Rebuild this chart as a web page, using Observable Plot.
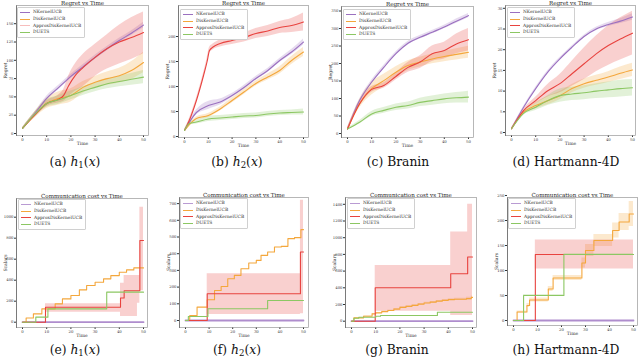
<!DOCTYPE html>
<html><head><meta charset="utf-8">
<script src="https://cdn.jsdelivr.net/npm/d3@7"></script>
<script src="https://cdn.jsdelivr.net/npm/@observablehq/plot@0.6"></script>
<style>
body{margin:0;background:#fff;}
#root{position:relative;width:640px;height:359px;overflow:hidden;font-family:"DejaVu Serif",serif;background:#fff;}
.cell{position:absolute;}
.cap{position:absolute;font-family:"DejaVu Serif",serif;font-size:12.3px;line-height:13px;text-align:center;width:160px;white-space:nowrap;color:#111;}
.cap sub{font-size:0.7em;vertical-align:-0.25em;line-height:0;}
.leg{position:absolute;background:#fff;border:0.6px solid #d0d0d0;border-radius:1px;font-family:"DejaVu Serif",serif;font-size:4.4px;line-height:6.8px;padding:1px 3px 1px 2px;color:#333;}
.leg div{white-space:nowrap;display:flex;align-items:center;}
.leg span.sw{display:inline-block;width:10px;height:0;border-top:1.6px solid;margin-right:3px;}
</style></head><body><div id="root"></div><script>
// ---------- data ----------
const methods = ["NKernelUCB","DisKernelUCB","ApproxDisKernelUCB","DUETS"];
const colors = ["#9b70c0","#f4a73c","#e8433f","#8cc763"];
const timeTicks = [0,10,20,30,40,50];
const tTop = [0,5,10,15,20,25,30,35,40,45,50];

// (a) h1 regret
const aTicks = [0,25,50,75,100,125,150];
const a_nk = [7,27,48,63,78,91,104,116,127,137,148];
const a_nk_hw = [1,2,3,3,3,3,3,3,3,3,4];
const a_dk = [7,25,41,48,52,63,70,75,79,86,97];
const a_dk_hw = [1,4,7,9,9,8,8,9,10,12,14];
const a_ap_t = [0,5,10,15,17,19,22,25,30,35,40,45,50];
const a_ap = [7,25,41,47,52,65,80,90,104,116,125,131,138];
const a_ap_lo = [6,22,37,42,44,50,58,64,78,88,95,101,109];
const a_ap_hi = [8,28,45,53,60,78,96,108,122,135,148,158,166];
const a_du = [7,26,41,46,52,58,63,68,71,74,77];
const a_du_hw = [1,3,5,6,6,6,6,7,7,8,9];

// (b) h2 regret
const bTicks = [0,50,100,150,200];
const b_nk = [12,48,62,69,82,98,116,132,152,169,189];
const b_nk_hw = [1,5,8,6,4,4,4,4,4,5,6];
const b_dk = [12,36,42,55,72,89,106,119,132,152,169];
const b_dk_hw = [1,3,4,4,5,5,5,6,7,8,9];
const b_ap_t = [0,2,5,8,9.5,10.5,12,15,20,25,30,35,40,45,50];
const b_ap = [12,32,72,122,150,172,179,186,192,198,206,211,218,222,229];
const b_ap_hw = [1,3,4,5,6,6,6,7,8,9,10,11,12,14,18];
const b_du_t = [0,2,5,10,15,20,25,30,35,40,45,50];
const b_du = [12,26,29,35,37,39,41,42,45,47,48,49];
const b_du_hw = [1,3,4,5,5,5,5,5,5,5,5,6];

// (c) Branin regret
const cTicks = [0,50,100,150,200,250,300,350];
const c_nk = [13,94,147,189,228,258,275,289,304,321,337];
const c_nk_hw = [3,4,5,5,5,5,5,5,5,6,6];
const c_dk = [13,85,128,151,175,194,204,213,220,226,232];
const c_dk_hw = [3,12,18,18,16,14,14,14,15,16,17];
const c_ap = [13,85,126,137,163,189,204,228,237,256,268];
const c_ap_hw = [3,8,8,8,10,14,18,22,24,28,32];
const c_du = [13,32,56,66,75,80,89,94,99,102,104];
const c_du_hw = [2,5,7,8,9,10,12,13,14,15,17];

// (d) Hartmann-4D regret
const dTicks = [0,5,10,15,20,25,30];
const d_nk = [0.9,6.1,10.6,14.6,17.8,20.6,23.2,25.0,26.1,26.9,27.9];
const d_nk_hw = [0.1,0.2,0.3,0.3,0.3,0.3,0.3,0.4,0.5,0.6,0.8];
const d_dk = [0.9,4.9,6.5,7.7,8.9,10.6,11.8,12.6,13.4,14.3,15.1];
const d_dk_hw = [0.1,0.4,0.8,1.0,1.0,1.0,1.1,1.2,1.3,1.5,1.6];
const d_ap = [0.9,5.3,7.7,10.1,11.8,14.2,16.6,19.0,21.0,22.6,24.0];
const d_ap_hw = [0.1,0.4,0.8,1.5,2.2,3.0,3.8,4.3,4.8,5.1,5.3];
const d_du = [0.9,4.6,6.1,7.7,8.9,9.3,9.6,10.0,10.3,10.6,10.8];
const d_du_hw = [0.1,0.4,0.8,1.2,1.6,1.6,1.7,1.8,1.9,2.0,2.0];

// (e) h1 communication
const eTicks = [0,200,400,600,800,1000];
const zero_t = [0,50], zero_v = [0,0];
const e_dk_t = [0,1.5,4.5,8,13.5,16.5,20,23.5,26.5,30,33.5,36.5,40,43,46,50];
const e_dk = [0,40,79,127,175,222,254,308,349,381,413,444,476,498,517,517];
const e_ap_t = [0,9.5,39.5,40.5,42,47.5,48.5,50];
const e_ap = [0,143,143,230,300,300,778,778];
const e_ap_lo = [0,95,95,54,54,180,300,300];
const e_ap_hi = [0,175,175,371,444,444,1095,1095];
const e_du_t = [0,5.5,10.5,34.8,50];
const e_du = [0,48,127,286,286];

// (f) h2 communication
const fTicks = [0,100,200,300,400,500,600,700];
const f_dk_t = [0,1.8,4.9,9.2,12.3,15.1,17.9,20.7,23.5,26.8,30,32,34.8,37.7,40.6,43.4,46.2,48.9,50];
const f_dk = [0,30,80,124,180,204,250,270,310,344,360,390,410,440,444,490,496,544,544];
const f_ap_t = [0,9.2,46.9,48.7,50];
const f_ap = [0,160,160,410,410];
const f_ap_lo = [0,36,36,40,40];
const f_ap_hi = [0,280,280,720,720];
const f_du_t = [0,1.2,9.5,34.8,50];
const f_du = [0,24,70,120,120];

// (g) Branin communication
const gTicks = [0,200,400,600,800,1000,1200,1400];
const g_dk_t = [0,1,5,8.5,10,12.5,15,17.5,20,22.5,25,27.5,30,32.5,35,37.5,40,42.5,45,47.5,49.5,50];
const g_dk = [0,40,60,88,100,115,128,145,165,178,190,205,218,228,240,250,258,262,262,270,285,285];
const g_dk_hw = [0,3,4,5,5,6,6,6,7,7,8,8,8,9,9,10,10,12,14,16,18,18];
const g_ap_t = [0,9.8,41,48,50];
const g_ap = [0,400,568,768,768];
const g_ap_lo = [0,120,68,68,68];
const g_ap_hi = [0,668,1068,1400,1400];
const g_du_t = [0,1,3,10,12,35.5,50];
const g_du = [0,36,48,60,68,108,108];

// (h) Hartmann-4D communication
const hTicks = [0,50,100,150,200,250];
const h_dk_t = [0,1.5,5.6,6.7,14.5,16.5,28.5,30,33.5,41.3,44,48.2,50];
const h_dk = [0,17,30,41,63,85,115,140,160,180,197,213,213];
const h_dk_hw = [0,2,4,4,5,5,10,12,12,15,17,25,27];
const h_ap_t = [0,9.1,50];
const h_ap = [0,132,132];
const h_ap_lo = [0,103,103];
const h_ap_hi = [0,161,161];
const h_du_t = [0,4.2,21,50];
const h_du = [0,50,132,132];
const h_du_hw = [0,2,2,2];

// ---------- build ----------
const S = (t, v, o = {}) => ({t, v, ...o});
const panels = [
 {cap:'(a) <i>h</i><sub>1</sub>(<i>x</i>)', title:"Regret vs Time", ylab:"Regret", yTicks:aTicks, yStep:25, curve:"monotone-x",
  series:[S(tTop,a_nk,{hw:a_nk_hw}),S(tTop,a_dk,{hw:a_dk_hw}),S(a_ap_t,a_ap,{lo:a_ap_lo,hi:a_ap_hi}),S(tTop,a_du,{hw:a_du_hw})]},
 {cap:'(b) <i>h</i><sub>2</sub>(<i>x</i>)', title:"Regret vs Time", ylab:"Regret", yTicks:bTicks, yStep:50, curve:"monotone-x",
  series:[S(tTop,b_nk,{hw:b_nk_hw}),S(tTop,b_dk,{hw:b_dk_hw}),S(b_ap_t,b_ap,{hw:b_ap_hw}),S(b_du_t,b_du,{hw:b_du_hw})]},
 {cap:'(c) Branin', title:"Regret vs Time", ylab:"Regret", yTicks:cTicks, yStep:50, curve:"monotone-x",
  series:[S(tTop,c_nk,{hw:c_nk_hw}),S(tTop,c_dk,{hw:c_dk_hw}),S(tTop,c_ap,{hw:c_ap_hw}),S(tTop,c_du,{hw:c_du_hw})]},
 {cap:'(d) Hartmann-4D', title:"Regret vs Time", ylab:"Regret", yTicks:dTicks, yStep:5, curve:"monotone-x",
  series:[S(tTop,d_nk,{hw:d_nk_hw}),S(tTop,d_dk,{hw:d_dk_hw}),S(tTop,d_ap,{hw:d_ap_hw}),S(tTop,d_du,{hw:d_du_hw})]},
 {cap:'(e) <i>h</i><sub>1</sub>(<i>x</i>)', title:"Communication cost vs Time", ylab:"Scalars", yTicks:eTicks, yStep:200, curve:"step-after",
  series:[S(zero_t,zero_v),S(e_dk_t,e_dk),S(e_ap_t,e_ap,{lo:e_ap_lo,hi:e_ap_hi}),S(e_du_t,e_du)]},
 {cap:'(f) <i>h</i><sub>2</sub>(<i>x</i>)', title:"Communication cost vs Time", ylab:"Scalars", yTicks:fTicks, yStep:100, curve:"step-after",
  series:[S(zero_t,zero_v),S(f_dk_t,f_dk),S(f_ap_t,f_ap,{lo:f_ap_lo,hi:f_ap_hi}),S(f_du_t,f_du)]},
 {cap:'(g) Branin', title:"Communication cost vs Time", ylab:"Scalars", yTicks:gTicks, yStep:200, curve:"step-after",
  series:[S(zero_t,zero_v),S(g_dk_t,g_dk,{hw:g_dk_hw}),S(g_ap_t,g_ap,{lo:g_ap_lo,hi:g_ap_hi}),S(g_du_t,g_du)]},
 {cap:'(h) Hartmann-4D', title:"Communication cost vs Time", ylab:"Scalars", yTicks:hTicks, yStep:50, curve:"step-after",
  series:[S(zero_t,zero_v),S(h_dk_t,h_dk,{hw:h_dk_hw}),S(h_ap_t,h_ap,{lo:h_ap_lo,hi:h_ap_hi}),S(h_du_t,h_du,{hw:h_du_hw})]}
];
// layout (pixels)
const layout = [
 {col:0,row:0,L:16,R:148,T:5,B:135,x0:22,x50:143,y0:133,sp:18.3,capX:75,capY:156,leg:[17,7]},
 {col:1,row:0,L:178,R:308,T:5,B:137,x0:184,x50:303,y0:136,sp:25,capX:237,capY:156,leg:[180,9]},
 {col:2,row:0,L:341,R:473,T:6,B:137,x0:347,x50:468,y0:133,sp:17.5,capX:398,capY:156,leg:[343,9]},
 {col:3,row:0,L:505,R:635,T:5,B:135,x0:511,x50:632,y0:132,sp:20.7,capX:566,capY:156,leg:[507,7]},
 {col:0,row:1,L:16,R:147,T:198,B:327,x0:22,x50:143,y0:321.7,sp:21,capX:75,capY:344,leg:[18,199]},
 {col:1,row:1,L:179,R:308,T:197,B:327,x0:185,x50:303,y0:320,sp:16.7,capX:237,capY:344,leg:[180,198]},
 {col:2,row:1,L:345,R:476,T:197,B:327,x0:351,x50:472,y0:320.7,sp:16.7,capX:397,capY:344,leg:[347,198]},
 {col:3,row:1,L:507,R:637,T:197,B:325,x0:513,x50:633,y0:320,sp:25,capX:566,capY:344,leg:[508,198]}
];
function rows(s){
  return s.t.map((t,i)=>{
    let lo=null, hi=null;
    if (s.lo){lo=s.lo[i];hi=s.hi[i];}
    else if (s.hw){lo=s.v[i]-s.hw[i];hi=s.v[i]+s.hw[i];}
    return {t, v:s.v[i], lo, hi};
  });
}
const FONT = "DejaVu Serif, serif";
const root = document.getElementById("root");
panels.forEach((p,i)=>{
  const g = layout[i];
  const cellLeft = g.col*160, cellTop = g.row ? 185 : 0, H = g.row ? 160 : 152;
  const kx = (g.x50-g.x0)/50, ky = g.sp/p.yStep;
  const xd = [-(g.x0-g.L)/kx, 50+(g.R-g.x50)/kx];
  const yd = [(g.y0-g.B)/ky, (g.y0-g.T)/ky];
  const data = p.series.map(rows);
  const marks = [];
  data.forEach((d,j)=>{ if (d[0].lo!=null) marks.push(Plot.areaY(d,{x:"t",y1:"lo",y2:"hi",fill:colors[j],fillOpacity:0.25,curve:p.curve})); });
  data.forEach((d,j)=> marks.push(Plot.line(d,{x:"t",y:"v",stroke:colors[j],strokeWidth:(j===0&&g.row)?1.8:1.1,strokeOpacity:(j===0&&g.row)?0.8:1,curve:p.curve})));
  marks.push(Plot.frame({stroke:"#999",strokeWidth:0.7}));
  marks.push(Plot.text([p.title],{frameAnchor:"top",textAnchor:"middle",lineAnchor:"bottom",dy:-1,fontSize:5.6,fill:"#222"}));
  marks.push(Plot.text(["Time"],{frameAnchor:"bottom",textAnchor:"middle",lineAnchor:"middle",dy:8.5,fontSize:4.6,fill:"#333"}));
  marks.push(Plot.text([p.ylab],{frameAnchor:"left",textAnchor:"middle",lineAnchor:"middle",dx:-10.5,rotate:-90,fontSize:4.6,fill:"#333"}));
  const svg = Plot.plot({
    width:160, height:H,
    marginLeft:g.L-cellLeft, marginRight:cellLeft+160-g.R, marginTop:g.T-cellTop, marginBottom:cellTop+H-g.B,
    x:{domain:xd, ticks:timeTicks, tickSize:2, tickPadding:0.5, label:null, tickFormat:d=>String(d)},
    y:{domain:yd, ticks:p.yTicks, tickSize:2, tickPadding:1, label:null, line:true, tickFormat:d=>String(d)},
    style:{fontSize:"3.8px", fontFamily:FONT, background:"transparent", overflow:"visible", color:"#333"},
    marks
  });
  const cell = document.createElement("div");
  cell.className="cell"; cell.style.left=cellLeft+"px"; cell.style.top=cellTop+"px"; cell.style.width="160px";
  cell.appendChild(svg); root.appendChild(cell);
});
panels.forEach((p,i)=>{
  const g = layout[i];
  const leg = document.createElement("div");
  leg.className="leg"; leg.style.left=g.leg[0]+"px"; leg.style.top=g.leg[1]+"px";
  methods.forEach((m,j)=>{
    const r=document.createElement("div");
    const sw=document.createElement("span"); sw.className="sw"; sw.style.borderTopColor=colors[j];
    if (j===2 && i===0) sw.style.opacity = 0.35;
    if (j===0 && g.row) sw.style.opacity = 0.7;
    r.appendChild(sw); r.appendChild(document.createTextNode(m)); leg.appendChild(r);
  });
  root.appendChild(leg);
  const c = document.createElement("div");
  c.className="cap"; c.style.left=(g.capX-80)+"px"; c.style.top=g.capY+"px"; c.innerHTML=p.cap;
  root.appendChild(c);
});
</script></body></html>
